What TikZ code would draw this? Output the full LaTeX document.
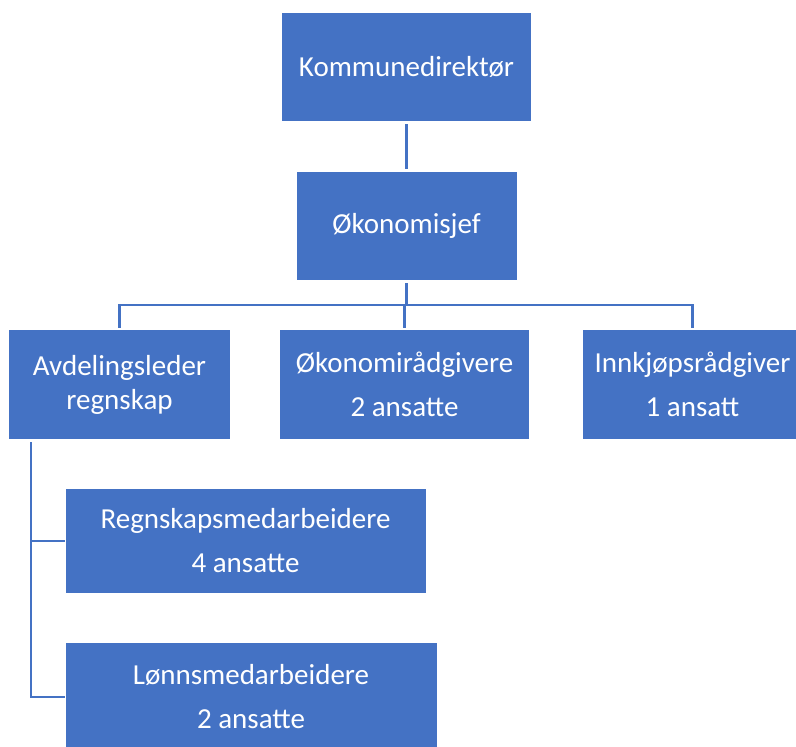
\documentclass[tikz,border=0pt]{standalone}
\usepackage{fontspec}
\setmainfont{Carlito}
\usepackage{xcolor}
\usetikzlibrary{positioning, calc}
\definecolor{cblue}{HTML}{4472C4}

\begin{document}
\begin{tikzpicture}[
    x=1pt, y=-1pt,
    font=\fontsize{29}{34}\selectfont,
    unit/.style={
        rectangle, fill=cblue, text=white, align=center,
        inner sep=0pt
    },
    link/.style={draw=cblue, line width=2.2pt},
]
\useasboundingbox (0,0) rectangle (796,747);
\clip (0,0) rectangle (796,747);

% --- Top of the hierarchy ----------------------------------------------------
\node[unit, minimum width=249pt, minimum height=108pt] (kd)   at (406.5, 67) {Kommunedirektør};
\node[unit, minimum width=220pt, minimum height=108pt] (okj)  at (406.5, 226) {Økonomisjef};

% --- Second level ------------------------------------------------------------
\node[unit, minimum width=221pt, minimum height=109pt] (avd)  at (119.5, 384.5) {%
    Avdelingsleder\\regnskap};
\node[unit, minimum width=249pt, minimum height=109pt] (okr)  at (404.5, 384.5) {%
    Økonomirådgivere\\[10pt]2 ansatte};
\node[unit, minimum width=219pt, minimum height=109pt] (innk) at (692.5, 384.5) {%
    Innkjøpsrådgiver\\[10pt]1 ansatt};

% --- Under avdelingsleder regnskap -------------------------------------------
\node[unit, minimum width=360pt, minimum height=104pt] (regn) at (245.5, 541) {%
    Regnskapsmedarbeidere\\[10pt]4 ansatte};
\node[unit, minimum width=371pt, minimum height=108pt] (lonn) at (251, 697) {%
    Lønnsmedarbeidere\\[10pt]2 ansatte};

% --- Connectors --------------------------------------------------------------
\coordinate (bus)   at (406.5, 305);
\coordinate (spine) at (31, 0);

\draw[link] ([yshift=-3pt]kd.south) -- ([yshift=3pt]okj.north);
\draw[link] ([yshift=-3pt]okj.south) -- (bus);
\draw[link] (bus) -| ([yshift=2pt]avd.north);
\draw[link] (bus) -| ([yshift=2pt]innk.north);
\draw[link] (bus) -| ([yshift=2pt]okr.north);

% --- Left spine to the two staff groups --------------------------------------
\draw[link] ([yshift=-3pt]avd.south -| spine) |- (lonn.west);
\draw[link] (spine |- regn.west) -- (regn.west);

\end{tikzpicture}
\end{document}
